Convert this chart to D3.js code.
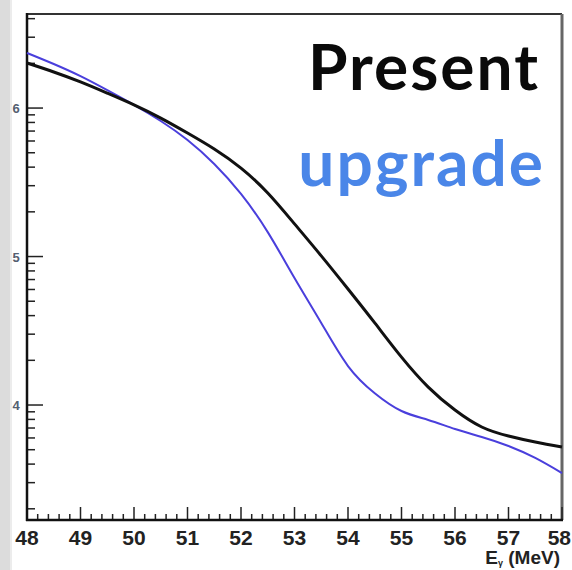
<!DOCTYPE html>
<html>
<head>
<meta charset="utf-8">
<script src="https://cdn.jsdelivr.net/npm/d3@7"></script>
<style>
  html, body { margin: 0; padding: 0; background: #fff; }
  svg { display: block; }
</style>
</head>
<body>
<svg id="chart" width="572" height="570"></svg>
<script>
// Photon energy grid (MeV)
const energy = [48, 48.5, 49, 49.5, 50, 50.5, 51, 51.5, 52, 52.5, 53, 53.5, 54, 54.5, 55, 55.5, 56, 56.5, 57, 57.5, 58];
// Event counts, present detector
const present = [2.01e6, 1.75e6, 1.50e6, 1.26e6, 1.05e6, 8.56e5, 6.79e5, 5.30e5, 3.94e5, 2.68e5, 1.66e5, 1.01e5, 6.04e4, 3.57e4, 2.10e4, 1.32e4, 9.25e3, 7.11e3, 6.18e3, 5.63e3, 5.21e3];
// Event counts, upgraded detector
const upgrade = [2.35e6, 1.98e6, 1.64e6, 1.32e6, 1.05e6, 8.18e5, 6.09e5, 4.20e5, 2.64e5, 1.46e5, 7.17e4, 3.57e4, 1.83e4, 1.20e4, 9.11e3, 7.93e3, 6.89e3, 6.09e3, 5.30e3, 4.40e3, 3.48e3];
// Axis tick values
const xTicks = [48, 49, 50, 51, 52, 53, 54, 55, 56, 57, 58];
const yMajor = [1e4, 1e5, 1e6];
const yMajorLabels = ["4", "5", "6"];
const seriesNames = ["Present", "upgrade"];

const svg = d3.select("#chart");
const W = 572, H = 570;
const L = 27, R = 562, T = 14, B = 520;

// left grey margin strip
svg.append("rect").attr("x", 0).attr("y", 0).attr("width", 10).attr("height", H).attr("fill", "#dcdcdc");
svg.append("rect").attr("x", 10).attr("y", 0).attr("width", 2).attr("height", H).attr("fill", "#ececec");

const x = d3.scaleLinear().domain([48, 58]).range([L, R]);
const y = d3.scaleLog().domain([1681, 4.3e6]).range([B, T]);

// frame
svg.append("line").attr("x1", L).attr("x2", R).attr("y1", T).attr("y2", T)
  .attr("stroke", "#333").attr("stroke-width", 2);
svg.append("line").attr("x1", R).attr("x2", R).attr("y1", T).attr("y2", B)
  .attr("stroke", "#666").attr("stroke-width", 3);

// x axis minor ticks (0.2 MeV) drawn inward
const xMinor = d3.range(48, 58.0001, 0.2).map(v => +v.toFixed(1)).filter(v => Math.abs(v - Math.round(v)) > 1e-6);
svg.append("g").selectAll("line").data(xMinor).join("line")
  .attr("x1", d => x(d)).attr("x2", d => x(d)).attr("y1", B).attr("y2", B - 6)
  .attr("stroke", "#222").attr("stroke-width", 1.5);
svg.append("g").selectAll("line").data(xTicks).join("line")
  .attr("x1", d => x(d)).attr("x2", d => x(d)).attr("y1", B).attr("y2", B - 13)
  .attr("stroke", "#222").attr("stroke-width", 1.5);

// y axis minor ticks
const yMinor = [];
[1e3, 1e4, 1e5, 1e6].forEach(dec => { for (let k = 2; k <= 9; k++) { const v = dec * k; if (v > y.domain()[0] && v < y.domain()[1]) yMinor.push(v); } });
svg.append("g").selectAll("line").data(yMinor).join("line")
  .attr("x1", L).attr("x2", L + 8).attr("y1", d => y(d)).attr("y2", d => y(d))
  .attr("stroke", "#222").attr("stroke-width", 1.5);
svg.append("g").selectAll("line").data(yMajor).join("line")
  .attr("x1", L).attr("x2", L + 16).attr("y1", d => y(d)).attr("y2", d => y(d))
  .attr("stroke", "#222").attr("stroke-width", 1.5);

// axes lines
svg.append("line").attr("x1", L).attr("x2", L).attr("y1", T - 1).attr("y2", B + 1)
  .attr("stroke", "#111").attr("stroke-width", 2.5);
svg.append("line").attr("x1", L - 1).attr("x2", R + 1).attr("y1", B).attr("y2", B)
  .attr("stroke", "#111").attr("stroke-width", 2.5);

// x tick labels; the last one is pulled in so it stays inside the page
svg.append("g").selectAll("text").data(xTicks).join("text")
  .attr("x", (d, i) => i === xTicks.length - 1 ? W - 1 : x(d)).attr("y", 545)
  .attr("text-anchor", (d, i) => i === xTicks.length - 1 ? "end" : "middle")
  .attr("font-family", "Liberation Sans, Arial, sans-serif")
  .attr("font-weight", "bold").attr("font-size", 21)
  .attr("fill", "#222")
  .text(d => d);

// y exponent labels (decade markers)
svg.append("g").selectAll("text").data(yMajor).join("text")
  .attr("x", 16).attr("y", d => y(d) + 5)
  .attr("text-anchor", "middle")
  .attr("font-family", "Liberation Sans, Arial, sans-serif")
  .attr("font-weight", "bold").attr("font-size", 13)
  .attr("fill", "#556070")
  .text((d, i) => yMajorLabels[i]);

// axis title
const title = svg.append("text").attr("x", 560).attr("y", 564)
  .attr("text-anchor", "end")
  .attr("font-family", "Liberation Sans, Arial, sans-serif")
  .attr("font-weight", "bold").attr("font-size", 19).attr("fill", "#222");
title.append("tspan").text("E");
title.append("tspan").attr("font-size", 9).attr("dy", 2).text("γ");
title.append("tspan").attr("dy", -2).text(" (MeV)");

// curves (natural cubic spline through the sampled points)
const line = d3.line().x(d => x(d[0])).y(d => y(d[1])).curve(d3.curveNatural);
svg.append("path").datum(energy.map((e, i) => [e, upgrade[i]]))
  .attr("d", line).attr("fill", "none").attr("stroke", "#4a3fdc").attr("stroke-width", 2);
svg.append("path").datum(energy.map((e, i) => [e, present[i]]))
  .attr("d", line).attr("fill", "none").attr("stroke", "#111").attr("stroke-width", 3);

// legend text
svg.append("text").attr("x", 540).attr("y", 90).attr("text-anchor", "end")
  .attr("font-family", "Lato, 'Open Sans', sans-serif").attr("font-size", 64).attr("font-weight", 700)
  .attr("letter-spacing", 2)
  .attr("fill", "#0a0a0a").text(seriesNames[0]);
svg.append("text").attr("x", 545).attr("y", 186).attr("text-anchor", "end")
  .attr("font-family", "Lato, 'Open Sans', sans-serif").attr("font-size", 64).attr("font-weight", 700)
  .attr("letter-spacing", 2)
  .attr("fill", "#4a86e8").text(seriesNames[1]);
</script>
</body>
</html>
